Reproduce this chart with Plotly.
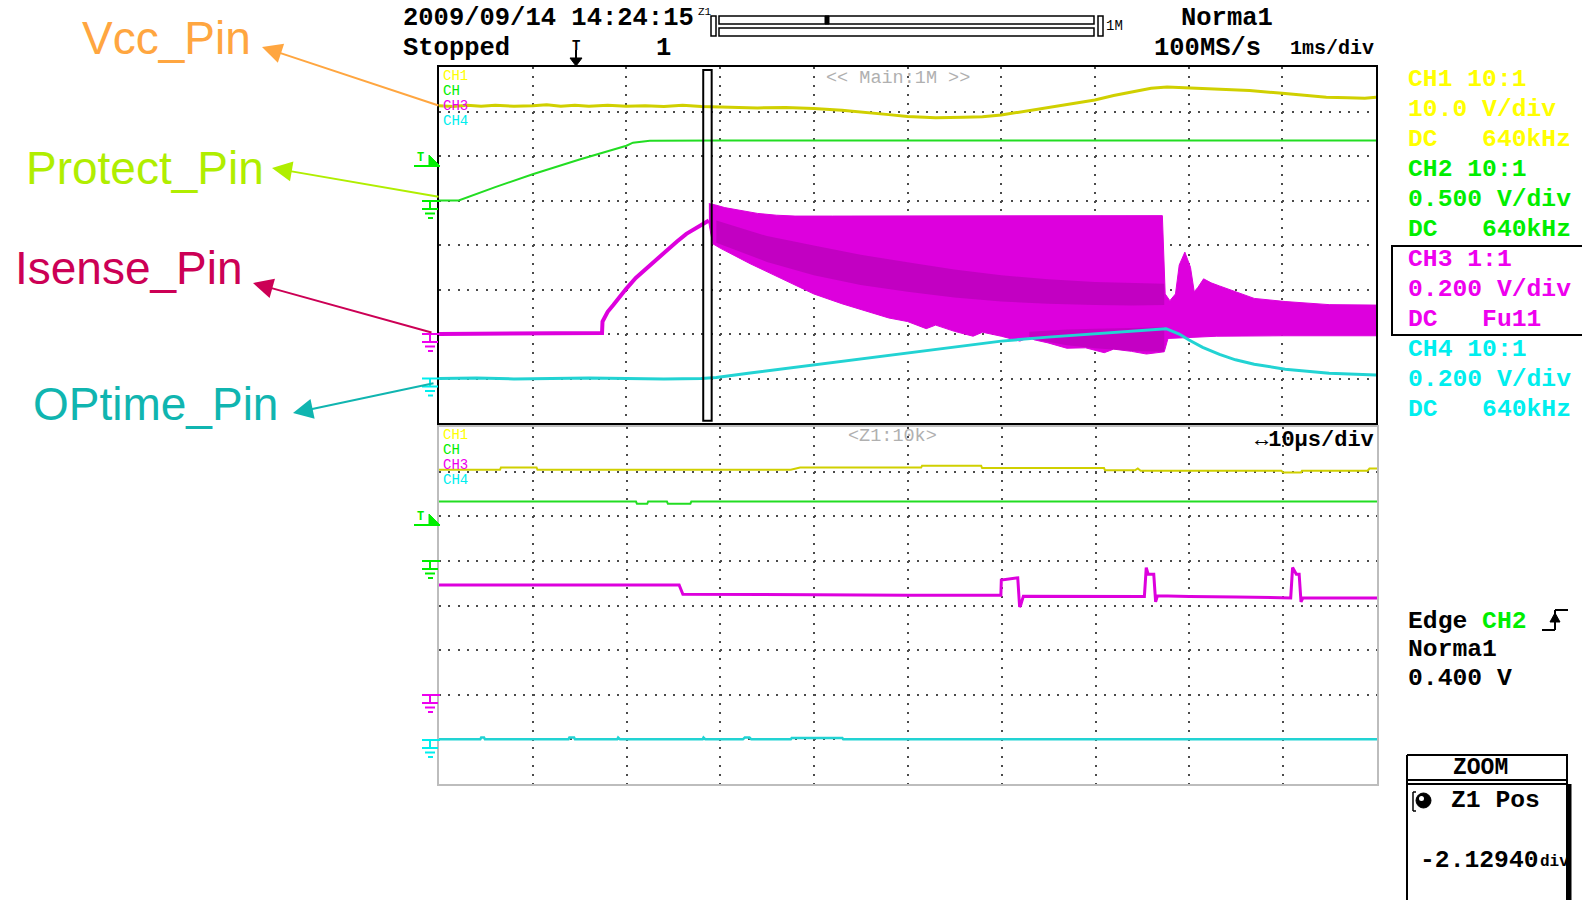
import plotly.graph_objects as go

W, H = 1582, 900
MONO = "Liberation Mono"
SANS = "Liberation Sans"

# trace colours
C_VCC, C_PROT, C_IS, C_OP = "#d0d000", "#22dd22", "#dd00dd", "#22d3d3"
# readout colours
T_CH1, T_CH2, T_CH3, T_CH4 = "#ffff00", "#00ee00", "#ee00ee", "#00eeee"

# ---------------- main window: 1 ms/div, values in divisions ----------------
vcc_t = [0, 0.15, 0.3, 0.45, 0.6, 0.8, 1.0, 1.15, 1.3, 1.45, 1.6, 1.8, 2.0, 2.2, 2.4, 2.6, 2.8,
         3.1, 3.4, 3.7, 4.0, 4.3, 4.6, 4.8, 5.0, 5.3, 5.6, 5.8, 6.0, 6.3, 6.6, 6.8, 7.0, 7.2,
         7.43, 7.6, 7.77, 8.0, 8.3, 8.65, 9.0, 9.25, 9.47, 9.7, 9.88, 10.0]
vcc_v = [7.13, 7.11, 7.14, 7.12, 7.14, 7.12, 7.13, 7.15, 7.12, 7.14, 7.12, 7.14, 7.12, 7.13, 7.11,
         7.14, 7.11, 7.10, 7.08, 7.09, 7.07, 7.03, 6.98, 6.93, 6.89, 6.86, 6.87, 6.88, 6.92,
         7.02, 7.13, 7.2, 7.26, 7.36, 7.46, 7.52, 7.55, 7.53, 7.51, 7.47, 7.41, 7.37, 7.32, 7.31,
         7.3, 7.32]

prot_t = [0, 0.21, 0.6, 1.0, 1.5, 2.0, 2.07, 2.25, 3.0, 4.0, 5.0, 6.0, 7.0, 8.0, 9.0, 10.0]
prot_v = [5.0, 5.0, 5.3, 5.59, 5.92, 6.23, 6.3, 6.34, 6.35, 6.35, 6.34, 6.35, 6.35, 6.34, 6.35, 6.35]

# Isense start-up ramp
is_t = [0, 0.5, 1.0, 1.5, 1.74, 1.745, 1.8, 1.86, 1.93, 2.0, 2.1, 2.21, 2.32, 2.43, 2.54, 2.64,
        2.74, 2.82, 2.88]
is_v = [2.0, 2.0, 2.01, 2.02, 2.02, 2.28, 2.5, 2.65, 2.85, 3.02, 3.26, 3.47, 3.68, 3.88, 4.08,
        4.25, 4.38, 4.47, 4.55]

# Isense switching burst: upper and lower envelope
is_hi_t = [2.88, 2.95, 3.05, 3.2, 3.4, 3.6, 3.8, 4.2, 4.6, 5.0, 5.5, 6.0, 6.5, 7.0, 7.4, 7.72,
           7.75, 7.8, 7.86, 7.9, 7.96, 8.02, 8.06, 8.1, 8.16, 8.24, 8.33, 8.5, 8.7, 9.03, 9.5, 10.0]
is_hi_v = [4.93, 4.9, 4.84, 4.78, 4.71, 4.67, 4.65, 4.65, 4.65, 4.65, 4.65, 4.65, 4.65, 4.65, 4.65,
           4.66, 2.9, 2.75, 2.9, 3.55, 3.84, 3.5, 2.95, 3.05, 3.24, 3.15, 3.08, 2.95, 2.8, 2.73,
           2.66, 2.65]
is_lo_t = [2.88, 2.92, 3.0, 3.32, 3.6, 4.0, 4.3, 4.5, 4.8, 5.0, 5.2, 5.3, 5.5, 5.7, 5.8, 6.0,
           6.2, 6.3, 6.35, 6.5, 6.7, 6.9, 7.1, 7.2, 7.39, 7.55, 7.74, 7.78, 8.0, 8.3, 9.0, 10.0]
is_lo_v = [4.5, 4.03, 3.93, 3.58, 3.3, 2.9, 2.68, 2.55, 2.36, 2.28, 2.12, 2.2, 2.06, 1.95, 2.04,
           1.95, 1.84, 1.93, 1.87, 1.8, 1.68, 1.69, 1.58, 1.66, 1.61, 1.55, 1.6, 1.9, 1.92, 1.95,
           1.96, 1.96]

# denser overlap bands inside the burst
band_t = [2.96, 3.5, 4.0, 4.5, 5.0, 5.5, 6.0, 6.5, 7.0, 7.4, 7.74]
band_hi = [4.55, 4.2, 3.99, 3.78, 3.61, 3.45, 3.32, 3.23, 3.17, 3.14, 3.13]
band_lo = [4.05, 3.62, 3.32, 3.1, 2.95, 2.82, 2.73, 2.68, 2.65, 2.64, 2.65]
band2_t = [6.3, 6.7, 7.0, 7.4, 7.74]
band2_hi = [2.05, 2.1, 2.12, 2.14, 2.15]
band2_lo = [1.9, 1.75, 1.68, 1.62, 1.6]

op_t = [0, 0.4, 0.8, 1.2, 1.6, 2.0, 2.4, 2.8, 2.96, 3.3, 3.6, 4.0, 4.5, 5.0, 5.5, 6.0, 6.5, 7.0,
        7.4, 7.76, 7.9, 8.0, 8.15, 8.33, 8.5, 8.7, 9.03, 9.5, 10.0]
op_v = [1.0, 1.01, 0.99, 1.0, 1.01, 1.0, 0.99, 1.0, 1.02, 1.12, 1.2, 1.32, 1.45, 1.58, 1.71, 1.84,
        1.93, 2.0, 2.06, 2.12, 2.0, 1.87, 1.7, 1.54, 1.42, 1.32, 1.21, 1.12, 1.08]

# ---------------- zoom window: 10 us/div ----------------
z_vcc_t = [0, 0.65, 0.66, 1.04, 1.05, 3.75, 3.85, 5.14, 5.15, 5.78, 5.79, 7.09, 7.1, 7.42, 7.45,
           7.48, 8.98, 9.0, 9.19, 9.2, 9.9, 9.92, 10]
z_vcc_v = [7.04, 7.04, 7.09, 7.09, 7.04, 7.04, 7.09, 7.09, 7.13, 7.13, 7.08, 7.08, 7.03, 7.03, 7.07,
           7.02, 7.02, 6.98, 6.98, 7.02, 7.02, 7.07, 7.07]

z_prot_t = [0, 2.1, 2.11, 2.22, 2.23, 2.43, 2.44, 2.68, 2.69, 10]
z_prot_v = [6.33, 6.33, 6.28, 6.28, 6.33, 6.33, 6.28, 6.28, 6.33, 6.33]

z_is_t = [0, 0.9, 1.5, 2.0, 2.4, 2.56, 2.6, 3.0, 4.0, 5.0, 5.99, 5.995, 6.17, 6.19, 6.2, 6.23, 6.6,
          7.0, 7.52, 7.54, 7.56, 7.62, 7.64, 7.66, 8.0, 8.5, 9.08, 9.1, 9.14, 9.17, 9.19, 9.21, 9.6, 10]
z_is_v = [4.46, 4.46, 4.46, 4.47, 4.46, 4.46, 4.25, 4.25, 4.24, 4.23, 4.23, 4.57, 4.62, 3.97, 4.0,
          4.21, 4.21, 4.2, 4.2, 4.85, 4.7, 4.7, 4.08, 4.22, 4.2, 4.19, 4.17, 4.85, 4.7, 4.7, 4.08,
          4.17, 4.17, 4.17]

z_op_t = [0, 0.44, 0.45, 0.48, 0.49, 1.38, 1.39, 1.44, 1.45, 1.9, 1.91, 1.93, 2.81, 2.82, 2.84,
          3.24, 3.26, 3.31, 3.33, 3.75, 3.76, 4.3, 4.31, 6, 8, 10]
z_op_v = [1.0, 1.0, 1.04, 1.04, 1.0, 1.0, 1.04, 1.04, 1.0, 1.0, 1.04, 1.0, 1.0, 1.04, 1.0, 1.0,
          1.04, 1.04, 1.0, 1.0, 1.03, 1.03, 1.0, 1.0, 1.01, 1.0]

# right-hand readouts
readout = [("CH1 10:1", T_CH1), ("10.0 V/div", T_CH1), ("DC   640kHz", T_CH1),
           ("CH2 10:1", T_CH2), ("0.500 V/div", T_CH2), ("DC   640kHz", T_CH2),
           ("CH3 1:1", T_CH3), ("0.200 V/div", T_CH3), ("DC   Fu11", T_CH3),
           ("CH4 10:1", T_CH4), ("0.200 V/div", T_CH4), ("DC   640kHz", T_CH4)]

pin_labels = [("Vcc_Pin", "#ffa640", 81, 38, (262, 47), (440, 106)),
              ("Protect_Pin", "#b0ee00", 25, 168, (272, 168), (440, 197)),
              ("Isense_Pin", "#cc0055", 14, 268, (253, 283), (433, 333)),
              ("OPtime_Pin", "#10b5b0", 32, 404, (293, 413), (435, 383))]

# ---------------- helpers ----------------
def px(x):
    return x / W


def py(y):
    return 1 - y / H


def line(x0, y0, x1, y1, color="black", w=2):
    return dict(type="line", xref="paper", yref="paper", x0=px(x0), y0=py(y0), x1=px(x1),
                y1=py(y1), line=dict(color=color, width=w), layer="above")


def rect(x0, y0, x1, y1, color="black", w=2, fill="rgba(0,0,0,0)"):
    return dict(type="rect", xref="paper", yref="paper", x0=px(x0), y0=py(y0), x1=px(x1),
                y1=py(y1), line=dict(color=color, width=w), fillcolor=fill, layer="above")


def poly(pts, color):
    d = "M " + " L ".join(f"{px(a):.5f},{py(b):.5f}" for a, b in pts) + " Z"
    return dict(type="path", xref="paper", yref="paper", path=d, fillcolor=color,
                line=dict(color=color, width=1), layer="above")


def text(x, y, s, color="black", size=24.7, anchor="left", family=MONO, bold=True):
    return dict(x=px(x), y=py(y), xref="paper", yref="paper", text=f"<b>{s}</b>" if bold else s,
                showarrow=False, xanchor=anchor, yanchor="middle", borderpad=0,
                font=dict(family=family, size=size, color=color))


def ground(y, color):
    return [line(422, y, 440, y, color), line(430, y, 430, y + 8, color),
            line(422, y + 8, 438, y + 8, color), line(425, y + 12.5, 435, y + 12.5, color),
            line(428, y + 17, 433, y + 17, color)]


def trig(y, color):
    return [line(414, y, 440, y, color), poly([(429, y - 11), (429, y), (440, y)], color)]


fig = go.Figure()


def trace(x, y, color, width, ax="1", **kw):
    sfx = "" if ax == "1" else ax
    fig.add_trace(go.Scatter(x=x, y=y, mode="lines", line=dict(color=color, width=width),
                             xaxis="x" + sfx, yaxis="y" + sfx, hoverinfo="skip", **kw))


# main window traces
trace(is_hi_t + is_lo_t[::-1], is_hi_v + is_lo_v[::-1], C_IS, 1, fill="toself", fillcolor=C_IS)
trace(band_t + band_t[::-1], band_hi + band_lo[::-1], "rgba(0,0,0,0)", 0, fill="toself",
      fillcolor="rgba(110,0,110,0.24)")
trace(band2_t + band2_t[::-1], band2_hi + band2_lo[::-1], "rgba(0,0,0,0)", 0, fill="toself",
      fillcolor="rgba(110,0,110,0.22)")
trace(is_t, is_v, C_IS, 4)
trace(vcc_t, vcc_v, C_VCC, 3)
trace(prot_t, prot_v, C_PROT, 2)
trace(op_t, op_v, C_OP, 3)

# zoom window traces
trace(z_is_t, z_is_v, C_IS, 3, ax="2")
trace(z_vcc_t, z_vcc_v, C_VCC, 2, ax="2")
trace(z_prot_t, z_prot_v, C_PROT, 2, ax="2")
trace(z_op_t, z_op_v, C_OP, 2.5, ax="2")


def xax(x0, x1, linecolor, anchor):
    return dict(domain=[px(x0), px(x1)], range=[0, 10], dtick=1, tick0=0, showgrid=True,
                gridcolor="#4a4a4a", gridwidth=2, griddash="2px,6.9px", zeroline=False,
                showline=True, mirror=True, linecolor=linecolor, linewidth=2,
                showticklabels=False, ticks="", fixedrange=True, anchor=anchor)


def yax(y0, y1, linecolor, anchor):
    return dict(domain=[py(y1), py(y0)], range=[0, 8], dtick=1, tick0=0, showgrid=True,
                gridcolor="#4a4a4a", gridwidth=2, griddash="2px,7.37px", zeroline=False,
                showline=True, mirror=True, linecolor=linecolor, linewidth=2,
                showticklabels=False, ticks="", fixedrange=True, anchor=anchor)


shapes = []
# zoom-window marker in the main window
shapes.append(dict(type="rect", xref="x", yref="y", x0=2.82, x1=2.91, y0=0.05, y1=7.93,
                   line=dict(color="black", width=2), layer="above"))
# ground / trigger markers
for yy, c in [(201, T_CH2), (334, T_CH3), (378.5, T_CH4), (561, T_CH2), (695, T_CH3), (740, T_CH4)]:
    shapes += ground(yy, c)
shapes += trig(166, T_CH2) + trig(525, T_CH2)
# record-length bar
shapes += [rect(711, 16, 716, 36, w=1.5), rect(719, 16, 1094, 24, w=1.5),
           rect(719, 28, 1094, 36, w=1.5), rect(1098, 16, 1103, 36, w=1.5),
           rect(825, 16, 829, 24, w=1, fill="black")]
# trigger position pointer
shapes.append(poly([(570, 58), (582, 58), (576, 66)], "black"))
shapes.append(line(576, 50, 576, 60, "black", 2))
# CH3 selection box
shapes.append(rect(1392, 246, 1583, 335))
# edge symbol
shapes += [line(1542, 630, 1555, 630, w=2), line(1555, 630, 1555, 610, w=2),
           line(1555, 610, 1568, 610, w=2), poly([(1550, 622), (1560, 622), (1555, 613)], "black")]
# ZOOM panel
shapes += [line(1407, 755, 1407, 900), line(1407, 755, 1568, 755), line(1567, 755, 1567, 900),
           line(1569, 784, 1569, 900, w=5), line(1407, 780, 1567, 780), line(1407, 784, 1567, 784),
           dict(type="circle", xref="paper", yref="paper", x0=px(1416), x1=px(1431), y0=py(808),
                y1=py(793), fillcolor="black", line=dict(color="black", width=1), layer="above"),
           dict(type="circle", xref="paper", yref="paper", x0=px(1419), x1=px(1424), y0=py(801),
                y1=py(796), fillcolor="white", line=dict(color="white", width=0), layer="above"),
           line(1413, 792, 1413, 811, w=1.5), line(1413, 792, 1416, 792, w=1.5),
           line(1413, 811, 1416, 811, w=1.5)]

ann = []
ann.append(text(402, 19, "2009/09/14 14:24:15", size=25.5))
ann.append(text(697, 12, "Z1", size=11, bold=False))
ann.append(text(1105, 26, "1M", size=14, bold=False))
ann.append(text(1180, 18, "Norma1", size=25.5))
ann.append(text(402, 49, "Stopped", size=25.5))
ann.append(text(576, 46, "T", size=14, anchor="center"))
ann.append(text(663, 49, "1", size=25.5, anchor="center"))
ann.append(text(1153, 49, "100MS/s", size=25.5))
ann.append(text(1375, 49, "1ms/div", size=20, anchor="right"))
for i, (s, c) in enumerate(readout):
    ann.append(text(1407, 79 + 30 * i, s, c))
ann.append(text(1407, 621, "Edge <span style='color:#00ee00'>CH2</span>"))
ann.append(text(1407, 649, "Norma1"))
ann.append(text(1407, 678, "0.400 V"))
ann.append(text(1480, 768, "ZOOM", size=23, anchor="center"))
ann.append(text(1450, 800, "Z1 Pos"))
ann.append(text(1419, 860, "-2.12940"))
ann.append(text(1539, 862, "div", size=16))
ann.append(text(898, 78, "&lt;&lt; Main:1M &gt;&gt;", "#b0b0b0", 18.5, "center", bold=False))
ann.append(text(892, 437, "&lt;Z1:10k&gt;", "#b0b0b0", 18.5, "center", bold=False))
ann.append(text(1375, 440, "↔10μs/div", size=22, anchor="right"))
for ys in ([76, 91, 106, 121], [435.5, 450, 465, 480]):
    for s, c, yy in zip(["CH1", "CH", "CH3", "CH4"], [T_CH1, T_CH2, T_CH3, T_CH4], ys):
        ann.append(text(442, yy, s, c, 14, bold=False))
ann.append(text(420, 158, "T", T_CH2, 12, "center"))
ann.append(text(420, 517, "T", T_CH2, 12, "center"))

for s, c, x, y, head, tail in pin_labels:
    ann.append(text(x, y, s, c, 46, family=SANS, bold=False))
    ann.append(dict(x=px(head[0]), y=py(head[1]), xref="paper", yref="paper", text="",
                    showarrow=True, ax=tail[0] - head[0], ay=tail[1] - head[1], arrowhead=2,
                    arrowsize=2, arrowwidth=2, arrowcolor=c, standoff=0, startstandoff=0))

fig.update_layout(
    width=W, height=H, margin=dict(l=0, r=0, t=0, b=0, pad=0),
    paper_bgcolor="white", plot_bgcolor="white", showlegend=False, hovermode=False,
    xaxis=xax(439, 1376, "black", "y"), yaxis=yax(67, 423, "black", "x"),
    xaxis2=xax(439, 1377, "#bdbdbd", "y2"), yaxis2=yax(427, 784, "#bdbdbd", "x2"),
    shapes=shapes, annotations=ann,
)

fig.write_html("out.html")
